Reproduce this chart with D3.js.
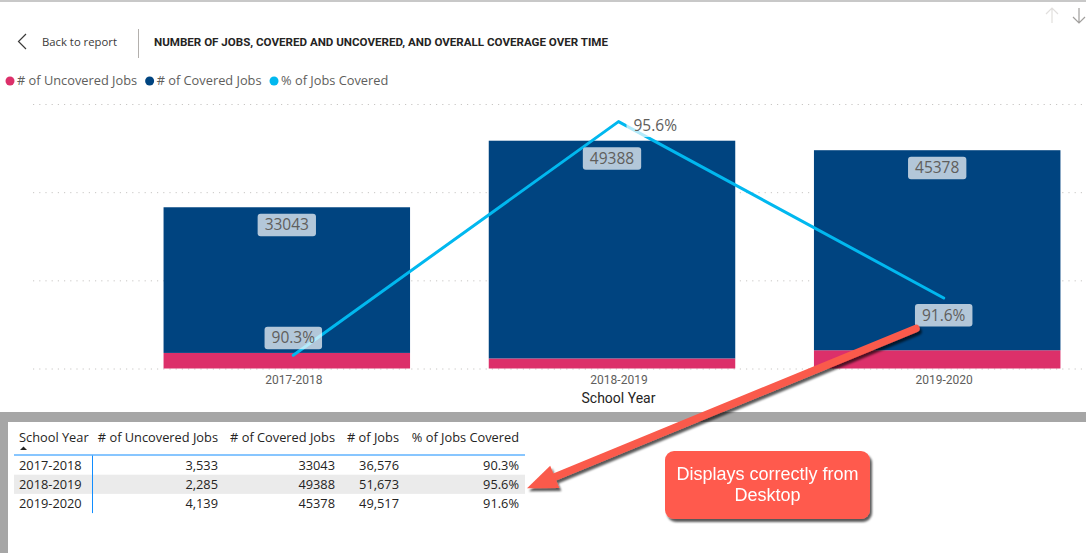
<!DOCTYPE html>
<html>
<head>
<meta charset="utf-8">
<script src="https://cdn.jsdelivr.net/npm/d3@7"></script>
<style>
  body { margin: 0; background: #fff; }
  svg { display: block; }
  text { font-family: "Segoe UI", "Open Sans", sans-serif; }
</style>
</head>
<body>
<svg id="chart"></svg>
<script>
// data
const years = ["2017-2018", "2018-2019", "2019-2020"]
const uncoveredJobs = [3533, 2285, 4139]
const coveredJobs = [33043, 49388, 45378]
const totalJobs = [36576, 51673, 49517]
const pctCovered = [90.3, 95.6, 91.6]
const yTicks = [0, 20000, 40000, 60000]
const pctDomain = [90, 96]

const width = 1086
const height = 553

const colUncovered = "#DC306A"
const colCovered = "#004480"
const colPct = "#01B8EF"
const colText = "#605E5C"

const svg = d3.select("#chart").attr("width", width).attr("height", height)

const defs = svg.append("defs")
defs.append("filter").attr("id", "shadow")
  .attr("x", "-20%").attr("y", "-20%").attr("width", "140%").attr("height", "160%")
  .append("feDropShadow")
  .attr("dx", 2).attr("dy", 3).attr("stdDeviation", 1.2)
  .attr("flood-color", "#000").attr("flood-opacity", 0.65)

// ---- header
svg.append("rect").attr("x", 0).attr("y", 0).attr("width", width).attr("height", 2).attr("fill", "#c8c8c8")

svg.append("path").attr("d", "M26,34 L18.5,41.5 L26,49")
  .attr("fill", "none").attr("stroke", "#3b3a39").attr("stroke-width", 1.2)
svg.append("text").attr("x", 42).attr("y", 42).attr("dy", "0.35em")
  .attr("font-size", 11.3).attr("fill", "#3b3a39").text("Back to report")
svg.append("line").attr("x1", 138.5).attr("x2", 138.5).attr("y1", 29).attr("y2", 58)
  .attr("stroke", "#b3b0ad")
svg.append("text").attr("x", 154).attr("y", 42).attr("dy", "0.35em")
  .style("font-family", "Roboto, 'DejaVu Sans', sans-serif")
  .attr("font-size", 10).attr("font-weight", 700).attr("fill", "#252423")
  .attr("textLength", 454).attr("lengthAdjust", "spacingAndGlyphs")
  .text("NUMBER OF JOBS, COVERED AND UNCOVERED, AND OVERALL COVERAGE OVER TIME")

// up / down arrows top right
svg.append("path").attr("d", "M1052,8 V23 M1046,14 L1052,8 L1058,14")
  .attr("fill", "none").attr("stroke", "#e1dfdd").attr("stroke-width", 1.2)
svg.append("path").attr("d", "M1079,8 V23 M1073,17 L1079,23 L1085,17")
  .attr("fill", "none").attr("stroke", "#a19f9d").attr("stroke-width", 1.2)

// ---- legend
const legendItems = [
  { name: "# of Uncovered Jobs", color: colUncovered },
  { name: "# of Covered Jobs", color: colCovered },
  { name: "% of Jobs Covered", color: colPct }
]
let lx = 10
legendItems.forEach(d => {
  svg.append("circle").attr("cx", lx).attr("cy", 81).attr("r", 4.5).attr("fill", d.color)
  const t = svg.append("text").attr("x", lx + 7).attr("y", 81).attr("dy", "0.35em")
    .attr("font-size", 12.8).attr("fill", colText).text(d.name)
  lx += 7 + t.node().getComputedTextLength() + 12.5
})

// ---- scales
const x = d3.scalePoint().domain(years).range([293.3, 943.7])
const barWidth = 246.5
const barShift = -6.5   // bars sit a little left of the category centre in the report

const y = d3.scaleLinear().domain([0, d3.max(yTicks)]).range([368.5, 104])
const yPct = d3.scaleLinear().domain(pctDomain).range([368.5, 104])

// gridlines
svg.append("g")
  .attr("transform", "translate(33,0)")
  .call(d3.axisLeft(y).tickValues(yTicks).tickSize(-(width - 33)).tickFormat(""))
  .call(g => g.select(".domain").remove())
  .call(g => g.selectAll(".tick line")
    .attr("stroke", "#c8c6c4").attr("stroke-dasharray", "1.2,5"))

// stacked bars
const rows = years.map((yr, i) => ({ year: yr, uncovered: uncoveredJobs[i], covered: coveredJobs[i] }))
const stacked = d3.stack().keys(["uncovered", "covered"])(rows)
const colors = { uncovered: colUncovered, covered: colCovered }

svg.append("g")
  .selectAll("g")
  .data(stacked)
  .join("g")
    .attr("fill", d => colors[d.key])
  .selectAll("rect")
  .data(d => d)
  .join("rect")
    .attr("x", d => x(d.data.year) + barShift - barWidth / 2)
    .attr("y", d => y(d[1]))
    .attr("width", barWidth)
    .attr("height", d => y(d[0]) - y(d[1]))

// x axis labels
svg.append("g")
  .attr("transform", "translate(0,368.5)")
  .call(d3.axisBottom(x).tickSize(0).tickPadding(7))
  .call(g => g.select(".domain").remove())
  .call(g => g.selectAll("text")
    .attr("font-size", 12).attr("fill", colText)
    .style("font-family", "Roboto, 'Segoe UI', sans-serif"))

svg.append("text")
  .attr("x", (x.range()[0] + x.range()[1]) / 2).attr("y", 398).attr("dy", "0.35em")
  .attr("text-anchor", "middle").attr("font-size", 14).attr("fill", "#252423")
  .style("font-family", "Roboto, 'Segoe UI', sans-serif")
  .text("School Year")

// % line
const line = d3.line().x((d, i) => x(years[i])).y(d => yPct(d))
svg.append("path")
  .datum(pctCovered)
  .attr("d", line)
  .attr("fill", "none").attr("stroke", colPct).attr("stroke-width", 3)
  .attr("stroke-linecap", "round").attr("stroke-linejoin", "round")

// data labels with translucent boxes
function labelBox(cx, cy, txt, anchor) {
  const g = svg.append("g")
  const t = g.append("text").attr("font-size", 15.5).attr("fill", "#605E5C")
    .attr("dy", "0.35em").text(txt)
  const w = t.node().getComputedTextLength() + 14
  const h = 22.5
  let bx = cx - w / 2
  if (anchor === "start") bx = cx
  g.insert("rect", "text")
    .attr("x", bx).attr("y", cy - h / 2).attr("width", w).attr("height", h)
    .attr("rx", 3).attr("fill", "#fff").attr("fill-opacity", 0.7)
  t.attr("x", bx + w / 2).attr("y", cy).attr("text-anchor", "middle")
  return { x: bx, y: cy - h / 2, w: w, h: h }
}

// covered values sit just inside the top of each bar
stacked[1].forEach(d => {
  labelBox(x(d.data.year) + barShift, y(d[1]) + 6.5 + 11.25, String(d.data.covered))
})

// % labels: above the first point, beside the peak, below the last
const pctBoxes = pctCovered.map((v, i) => {
  const px = x(years[i]), py = yPct(v)
  const txt = v.toFixed(1) + "%"
  if (i === d3.maxIndex(pctCovered)) return labelBox(px + 8, py + 4, txt, "start")
  if (i === 0) return labelBox(px, py - 6 - 11.25, txt)
  return labelBox(px, py + 6 + 11.25, txt)
})

// ---- lower panel frame
svg.append("rect").attr("x", 0).attr("y", 412).attr("width", width).attr("height", 10).attr("fill", "#a6a6a6")
svg.append("rect").attr("x", 0).attr("y", 412).attr("width", 8).attr("height", height - 412).attr("fill", "#a6a6a6")

// ---- table
const fmtComma = d3.format(",")
const columns = [
  { name: "School Year", values: years, right: null, fmt: d => d },
  { name: "# of Uncovered Jobs", values: uncoveredJobs, right: 218, fmt: fmtComma },
  { name: "# of Covered Jobs", values: coveredJobs, right: 335, fmt: d => String(d) },
  { name: "# of Jobs", values: totalJobs, right: 399, fmt: fmtComma },
  { name: "% of Jobs Covered", values: pctCovered, right: 519, fmt: d => d.toFixed(1) + "%" }
]
const tableLeft = 14, tableRight = 525
const headerY = 437.5
const rowTop = 455.5, rowH = 19.2
const tableFont = 12.8

const table = svg.append("g")
table.append("rect")
  .attr("x", tableLeft).attr("y", rowTop + rowH).attr("width", tableRight - tableLeft).attr("height", rowH)
  .attr("fill", "#ebebeb")

columns.forEach(col => {
  const tx = col.right == null ? 19 : col.right
  const anchor = col.right == null ? "start" : "end"
  table.append("text").attr("x", tx).attr("y", headerY).attr("dy", "0.35em")
    .attr("text-anchor", anchor).attr("font-size", tableFont).attr("fill", "#252423")
    .text(col.name)
  table.selectAll(null)
    .data(col.values)
    .join("text")
      .attr("x", tx)
      .attr("y", (d, i) => rowTop + rowH * i + rowH / 2)
      .attr("dy", "0.35em")
      .attr("text-anchor", anchor).attr("font-size", tableFont).attr("fill", "#252423")
      .text(col.fmt)
})
table.append("path").attr("d", "M20,450 L23.5,446.5 L27,450 Z").attr("fill", "#252423")
table.append("line").attr("x1", tableLeft).attr("x2", tableRight)
  .attr("y1", rowTop - 0.5).attr("y2", rowTop - 0.5).attr("stroke", "#118DFF")
table.append("line").attr("x1", 92.5).attr("x2", 92.5)
  .attr("y1", rowTop).attr("y2", rowTop + rowH * years.length)
  .attr("stroke", "#118DFF")

// ---- annotation callout
const ann = svg.append("g").attr("filter", "url(#shadow)")
ann.append("rect").attr("x", 665).attr("y", 451).attr("width", 205).attr("height", 68)
  .attr("rx", 9).attr("fill", "#FF5A4E")
ann.append("text").attr("x", 767.5).attr("y", 474).attr("dy", "0.35em")
  .attr("text-anchor", "middle").attr("font-size", 18).attr("fill", "#fff")
  .style("font-family", "'Liberation Sans', Arial, sans-serif")
  .text("Displays correctly from")
ann.append("text").attr("x", 767.5).attr("y", 495).attr("dy", "0.35em")
  .attr("text-anchor", "middle").attr("font-size", 18).attr("fill", "#fff")
  .style("font-family", "'Liberation Sans', Arial, sans-serif")
  .text("Desktop")

// arrow from the 91.6% label down to the matching table row
const last = pctBoxes[pctBoxes.length - 1]
const sx = last.x + 1, sy = last.y + last.h + 2
const tipX = tableRight + 2, tipY = rowTop + rowH * 1.5 + 4
const ang = Math.atan2(tipY - sy, tipX - sx)
const headLen = 30, headHalf = 12
const bx = tipX - headLen * Math.cos(ang), by = tipY - headLen * Math.sin(ang)
const arrow = svg.append("g").attr("filter", "url(#shadow)")
arrow.append("line").attr("x1", sx).attr("y1", sy).attr("x2", bx + 4 * Math.cos(ang)).attr("y2", by + 4 * Math.sin(ang))
  .attr("stroke", "#FA5A4B").attr("stroke-width", 7.5).attr("stroke-linecap", "round")
arrow.append("path")
  .attr("d", `M${tipX},${tipY} L${bx - headHalf * Math.sin(ang)},${by + headHalf * Math.cos(ang)} L${bx + headHalf * Math.sin(ang)},${by - headHalf * Math.cos(ang)} Z`)
  .attr("fill", "#FA5A4B")
</script>
</body>
</html>
